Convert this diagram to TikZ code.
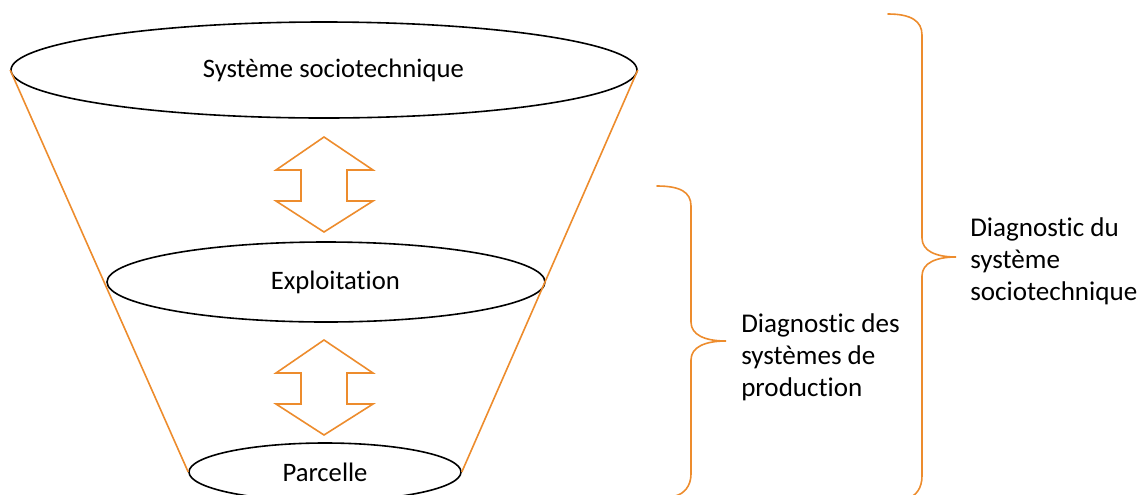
\documentclass[tikz,border=0pt]{standalone}
\usepackage{fontspec}
\setmainfont[Ligatures=NoCommon]{Carlito}
\usetikzlibrary{shapes.geometric}
\definecolor{ora}{RGB}{237,140,45}
\begin{document}
\begin{tikzpicture}[x=0.75pt,y=-0.75pt,
  ell/.style={draw=black,line width=1.2pt,ellipse,inner sep=0pt,font=\fontsize{20}{24}\selectfont},
  side/.style={ora,line width=1.2pt},
  brace/.style={ora,line width=1.2pt,line cap=round},
  dbl/.style={ora,line width=1.2pt,line join=miter,fill=white},
  lab/.style={align=left,anchor=north west,inner sep=0pt,font=\fontsize{20.3}{24}\selectfont}]
\useasboundingbox (0,0) rectangle (1139,494);
\clip (0,0) rectangle (1139,494);
\node[ell,minimum width=469.5pt,minimum height=72pt] (sys) at (324,70) {\hspace*{14pt}Système sociotechnique};
\node[ell,minimum width=328.5pt,minimum height=60pt] (exp) at (326,282) {\hspace*{14pt}Exploitation};
\node[ell,minimum width=204pt,minimum height=43.5pt] (par) at (325,472) {Parcelle};
\draw[side] (sys.west) -- (par.west);
\draw[side] (sys.east) -- (par.east);
% double arrows
\foreach \dy in {0,203}{
  \begin{scope}[yshift=-\dy*0.75pt]
  \draw[dbl] (324,137) -- (373,170) -- (347,170) -- (347,201) -- (373,201) -- (324,232)
     -- (276,201) -- (301,201) -- (301,170) -- (276,170) -- cycle;
  \end{scope}
}
% small brace
\coordinate (b1t) at (657,186);
\coordinate (b1m) at (726,341);
\coordinate (b1b) at (675,496);
\draw[brace] (b1t) .. controls (680,186) and (691,192) .. (691,206) -- (691,322)
  .. controls (691,335) and (705,341) .. (b1m)
  .. controls (705,341) and (691,347) .. (691,360) -- (691,474)
  .. controls (691,486) and (684,494) .. (b1b);
% large brace
\coordinate (b2t) at (888,14);
\coordinate (b2m) at (956,257);
\coordinate (b2b) at (908,498);
\draw[brace] (b2t) .. controls (911,14) and (922,21) .. (922,35) -- (922,238)
  .. controls (922,251) and (936,257) .. (b2m)
  .. controls (936,257) and (922,263) .. (922,276) -- (922,476)
  .. controls (922,488) and (916,496) .. (b2b);
\node[lab] (l1) at (741,313) {Diagnostic des\\systèmes de\\production};
\node[lab] (l2) at (970,217) {Diagnostic du\\système\\sociotechnique};
\end{tikzpicture}
\end{document}
